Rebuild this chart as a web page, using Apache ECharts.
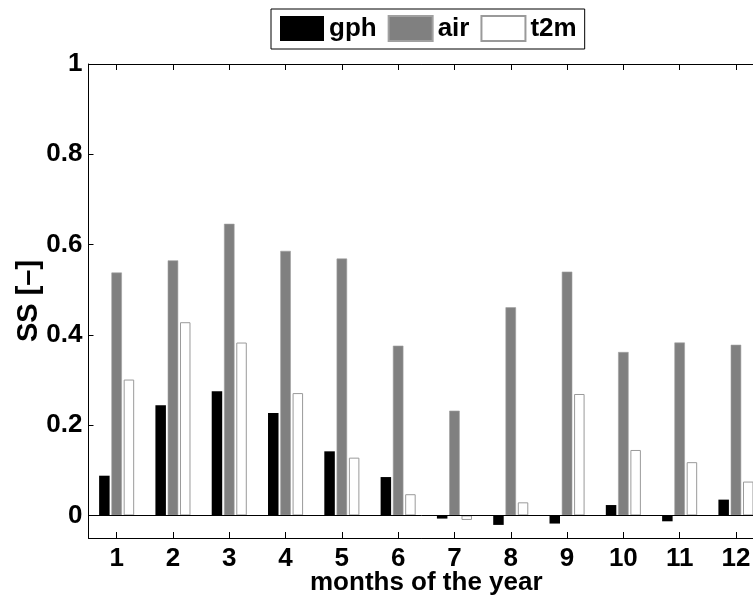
<!DOCTYPE html>
<html>
<head>
<meta charset="utf-8">
<script src="https://cdn.jsdelivr.net/npm/echarts@6/dist/echarts.min.js"></script>
<style>
html,body{margin:0;padding:0;background:#fff;}
#chart{width:753px;height:601px;}
</style>
</head>
<body>
<div id="chart"></div>
<script>
var months = ['1','2','3','4','5','6','7','8','9','10','11','12'];
var gph = [0.088, 0.244, 0.275, 0.227, 0.142, 0.085, -0.007, -0.021, -0.018, 0.023, -0.013, 0.035];
var air = [0.538, 0.565, 0.646, 0.586, 0.569, 0.376, 0.232, 0.461, 0.540, 0.362, 0.383, 0.378];
var t2m = [0.301, 0.428, 0.383, 0.271, 0.128, 0.047, -0.010, 0.029, 0.269, 0.145, 0.118, 0.075];
var yTicks = [0, 0.2, 0.4, 0.6, 0.8, 1];

var FONT = 'Liberation Sans';
var txt = {fontFamily: FONT, fontWeight: 'bold', fontSize: 26, color: '#000'};

var chart = echarts.init(document.getElementById('chart'), null, {renderer: 'canvas'});
var barW = 10.5;
chart.setOption({
  animation: false,
  backgroundColor: '#fff',
  legend: {
    top: 9,
    left: 271,
    orient: 'horizontal',
    icon: 'rect',
    itemWidth: 44,
    itemHeight: 25,
    itemGap: 11,
    padding: [6, 8, 7, 9],
    borderColor: '#000',
    borderWidth: 1,
    borderRadius: 0,
    textStyle: {fontFamily: FONT, fontWeight: 'bold', fontSize: 26, color: '#000'},
    data: ['gph', 'air', 't2m']
  },
  grid: {
    left: 88.5,
    top: 64,
    width: 675.6,
    height: 474,
    containLabel: false,
    outerBoundsMode: 'none'
  },
  xAxis: [{
    type: 'category',
    data: months,
    position: 'bottom',
    boundaryGap: true,
    name: 'months of the year',
    nameLocation: 'middle',
    nameGap: 32,
    nameMoveOverlap: false,
    nameTextStyle: txt,
    axisLine: {show: true, onZero: false, lineStyle: {color: '#000', width: 1}},
    axisTick: {show: true, inside: true, alignWithLabel: true, length: 6, lineStyle: {color: '#000'}},
    axisLabel: Object.assign({margin: 8}, txt),
    splitLine: {show: false}
  }, {
    type: 'category',
    data: months,
    position: 'top',
    boundaryGap: true,
    axisLine: {show: true, onZero: false, lineStyle: {color: '#000', width: 1}},
    axisTick: {show: true, inside: true, alignWithLabel: true, length: 6, lineStyle: {color: '#000'}},
    axisLabel: {show: false},
    splitLine: {show: false}
  }],
  yAxis: [{
    type: 'value',
    min: -0.05,
    max: 1,
    name: 'SS [–]',
    nameLocation: 'middle',
    nameGap: 45,
    nameMoveOverlap: false,
    nameRotate: 90,
    nameTextStyle: {fontFamily: FONT, fontWeight: 'bold', fontSize: 29, color: '#000'},
    axisLine: {show: true, onZero: false, lineStyle: {color: '#000', width: 1}},
    axisTick: {show: true, inside: true, length: 5, customValues: yTicks, lineStyle: {color: '#000'}},
    axisLabel: Object.assign({margin: 6, customValues: yTicks}, txt),
    splitLine: {show: false}
  }],
  series: [{
    name: 'gph',
    type: 'bar',
    data: gph,
    barWidth: barW,
    barGap: '17%',
    itemStyle: {color: '#000'},
    markLine: {
      silent: true,
      symbol: ['none', 'none'],
      label: {show: false},
      lineStyle: {color: '#000', type: 'solid', width: 1},
      data: [{yAxis: 0}],
      z: 10
    }
  }, {
    name: 'air',
    type: 'bar',
    data: air,
    barWidth: barW,
    barGap: '17%',
    itemStyle: {color: '#808080', borderColor: '#a0a0a0', borderWidth: 0.6}
  }, {
    name: 't2m',
    type: 'bar',
    data: t2m,
    barWidth: barW,
    barGap: '17%',
    itemStyle: {color: '#fff', borderColor: '#9a9a9a', borderWidth: 1}
  }]
});
</script>
</body>
</html>
